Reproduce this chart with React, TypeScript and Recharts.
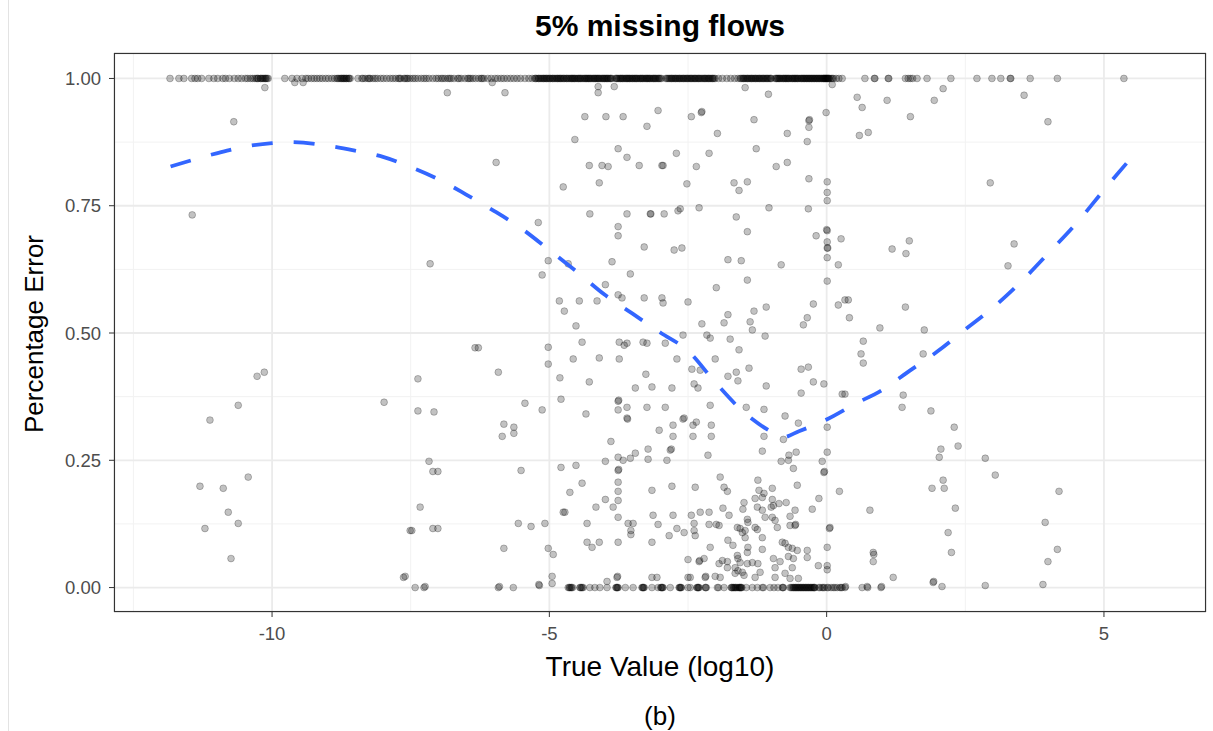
import { ScatterChart, Scatter, XAxis, YAxis, CartesianGrid } from 'recharts'

const xTicks = [-10, -5, 0, 5]
const yTicks = [0, 0.25, 0.5, 0.75, 1]
const xMinor = [-12.5, -7.5, -2.5, 2.5]
const yMinor = [0.125, 0.375, 0.625, 0.875]

// flows whose percentage error is 1 (row along the top)
const topRowX = [
  -11.84, -11.68, -11.59, -11.45, -11.39, -11.34, -11.27, -11.14, -11.05,
  -10.98, -10.89, -10.84, -10.77, -10.68, -10.61, -10.55, -10.48, -10.44, -10.39, -10.35,
  -10.31, -10.28, -10.25, -10.21, -10.18, -10.14, -10.11, -10.07,
  -9.77, -9.64, -9.55, -9.46, -9.39, -9.35, -9.29, -9.24, -9.19, -9.14, -9.09, -9.03,
  -8.98, -8.92, -8.87, -8.83, -8.79, -8.76, -8.73, -8.71, -8.68, -8.65, -8.62, -8.59,
  -8.45, -8.38, -8.32, -8.27, -8.23, -8.18, -8.14, -8.1, -8.04, -7.99, -7.93, -7.87,
  -7.82, -7.77, -7.72, -7.68, -7.62, -7.57, -7.51, -7.46, -7.42,
  -7.37, -7.31, -7.26, -7.22, -7.17, -7.1, -7.04, -7.0, -6.95, -6.88, -6.83, -6.77,
  -6.72, -6.65, -6.59, -6.52, -6.47, -6.42, -6.38, -6.33, -6.27, -6.23, -6.18, -6.11,
  -6.05, -5.98, -5.93, -5.87, -5.82, -5.76, -5.7, -5.64, -5.58, -5.52, -5.44, -5.37, -5.31,
  -5.26, -5.23, -5.2, -5.17, -5.13, -5.1, -5.08, -5.05, -5.01, -4.98, -4.95, -4.92,
  -4.88, -4.85, -4.83, -4.8, -4.76, -4.73, -4.7, -4.67, -4.63, -4.6, -4.57, -4.54,
  -4.5, -4.47, -4.45, -4.42, -4.38, -4.35, -4.32, -4.29, -4.26, -4.22, -4.19, -4.16,
  -4.13, -4.1, -4.06, -4.03, -4.0, -3.97, -3.94, -3.9, -3.87,
  -3.81, -3.78, -3.74, -3.71, -3.68, -3.64, -3.61, -3.58, -3.55, -3.51, -3.48, -3.45,
  -3.42, -3.38, -3.35, -3.32, -3.28, -3.25, -3.22, -3.19, -3.15, -3.12, -3.09, -3.05,
  -3.02, -2.98,
  -2.9, -2.86, -2.82, -2.79, -2.75, -2.72, -2.68, -2.65, -2.61, -2.58, -2.54, -2.51,
  -2.47, -2.44, -2.4, -2.37, -2.33, -2.3, -2.26, -2.22, -2.19, -2.15, -2.12, -2.08,
  -2.05, -2.01, -1.95, -1.88, -1.8, -1.73, -1.66, -1.6,
  -1.56, -1.52, -1.49, -1.45, -1.42, -1.38, -1.35, -1.31, -1.28, -1.24, -1.21, -1.17,
  -1.14, -1.1, -1.07, -1.03, -1.0,
  -0.93, -0.9, -0.87, -0.84, -0.8, -0.77, -0.74, -0.71, -0.68, -0.64, -0.61, -0.58,
  -0.55, -0.52, -0.48, -0.45, -0.42, -0.39, -0.36, -0.33, -0.3, -0.27, -0.24, -0.21,
  -0.18, -0.15, -0.12, -0.09, -0.06, -0.04, -0.02, 0.0, 0.02, 0.05, 0.08, 0.12, 0.17,
  0.22, 0.28,
  0.69, 0.86, 0.87, 1.11, 1.12, 1.42, 1.47, 1.51, 1.55, 1.63, 1.81, 2.24, 2.71, 2.98,
  3.14, 3.31, 3.32, 3.67, 4.16, 5.36,
]

// the near-black stretch of the top row holds many more overlapping flows
const topRowDenseX = [
  -10.26, -10.2, -10.16, -10.12, -10.09, -8.81, -8.75, -8.7, -8.66, -8.61, -8.36, -8.25,
  -7.7, -7.6, -7.55, -6.92, -6.8, -6.63, -6.45, -6.21,
  -5.25, -5.19, -5.15, -5.11, -5.06, -5.03, -4.99, -4.94, -4.9, -4.86, -4.81, -4.78,
  -4.74, -4.69, -4.65, -4.61, -4.58, -4.55, -4.52, -4.48, -4.44, -4.4, -4.36, -4.33,
  -4.3, -4.27, -4.24, -4.2, -4.17, -4.14, -4.11, -4.08, -4.04, -4.01, -3.98, -3.95,
  -3.92, -3.89,
  -3.79, -3.76, -3.72, -3.69, -3.66, -3.62, -3.59, -3.56, -3.53, -3.5, -3.46, -3.43,
  -3.4, -3.36, -3.33, -3.3, -3.26, -3.23, -3.2, -3.17, -3.13, -3.1, -3.07, -3.03, -3.0,
  -2.88, -2.84, -2.8, -2.77, -2.73, -2.7, -2.66, -2.63, -2.59, -2.56, -2.52, -2.49,
  -2.45, -2.42, -2.38, -2.35, -2.31, -2.28, -2.24, -2.2, -2.17, -2.13, -2.1, -2.06, -2.03,
  -1.54, -1.5, -1.47, -1.43, -1.4, -1.36, -1.33, -1.29, -1.26, -1.22, -1.19, -1.15,
  -1.12, -1.08, -1.05, -1.01,
  -0.91, -0.88, -0.85, -0.82, -0.78, -0.75, -0.72, -0.69, -0.66, -0.62, -0.59, -0.56,
  -0.53, -0.5, -0.46, -0.43, -0.4, -0.37, -0.34, -0.31, -0.28, -0.25, -0.22, -0.19,
  -0.16, -0.13, -0.1, -0.07, -0.05, -0.03, -0.01, 0.01, 0.03, 0.04, 0.1,
]

// flows whose percentage error is 0 (row along the bottom)
const bottomRowX = [
  -4.66, -4.63, -4.6, -4.45, -4.42, -4.39, -4.27, -4.18, -4.09, -3.96, -3.8, -3.78,
  -3.76, -3.63, -3.49, -3.33, -3.31, -3.29, -3.15, -3.04, -2.99, -2.97, -2.95, -2.82,
  -2.66, -2.64, -2.62, -2.5, -2.46, -2.34, -2.32, -2.3, -2.19, -2.17, -1.97, -1.95,
  -1.85, -1.72, -1.7, -1.67, -1.64, -1.6, -1.57, -1.55, -1.53, -1.45, -1.34, -1.25,
  -1.16, -1.14, -1.02, -0.95, -0.88, -0.8, -0.78, -0.66, -0.62, -0.59, -0.56, -0.53,
  -0.5, -0.47, -0.44, -0.41, -0.38, -0.35, -0.32, -0.29, -0.26, -0.23, -0.21, -0.14,
  -0.08, -0.04, 0.03, 0.08, 0.15, 0.19, 0.24, 0.28,
]

const bottomRowDenseX = [
  -4.64, -4.61, -4.58, -4.44, -4.41, -3.79, -3.77, -3.32, -3.3, -2.98, -2.96, -2.65,
  -2.63, -2.33, -2.31, -2.18, -1.71, -1.68, -1.65, -1.62, -1.58, -1.56, -1.54, -0.79,
  -0.64, -0.6, -0.57, -0.54, -0.51, -0.48, -0.45, -0.42, -0.39, -0.36, -0.33, -0.3,
  -0.27, -0.24, -0.22, -0.12, -0.06, 0.01, 0.12, 0.26,
]

const leftPoints: [number, number][] = [
  [-10.13, 0.982], [-9.59, 0.992], [-9.44, 0.992], [-6.84, 0.972], [-5.8, 0.972],
  [-10.69, 0.915], [-11.44, 0.732], [-7.15, 0.636], [-6.34, 0.471], [-6.28, 0.471],
  [-10.14, 0.423], [-10.27, 0.415], [-7.37, 0.41], [-10.61, 0.358], [-11.12, 0.329],
  [-7.98, 0.364], [-7.37, 0.347], [-7.08, 0.345], [-7.17, 0.248], [-7.1, 0.228],
  [-7.01, 0.228], [-10.43, 0.217], [-11.3, 0.199], [-10.88, 0.195], [-10.79, 0.148],
  [-11.21, 0.116], [-10.61, 0.126], [-7.33, 0.158], [-7.51, 0.112], [-7.48, 0.112],
  [-7.1, 0.116], [-7.01, 0.116], [-10.74, 0.057], [-7.63, 0.02], [-7.6, 0.022],
  [-7.42, 0], [-7.26, 0], [-7.24, 0.002], [-6.03, 0.992], [-5.96, 0.835], [-5.92, 0.423],
  [-5.82, 0.321], [-5.64, 0.315], [-5.85, 0.297], [-5.64, 0.303], [-5.82, 0.077],
  [-5.92, 0], [-5.9, 0.002], [-5.65, 0], [-5.51, 0.23], [-5.56, 0.126],
]

const centerPoints: [number, number][] = [
  [-4.12, 0.984], [-4.12, 0.972], [-3.83, 0.984], [-1.47, 0.982], [-1.05, 0.969], [0.1, 0.988],
  [-4.36, 0.925], [-3.98, 0.925], [-3.67, 0.925], [-3.04, 0.937], [-3.24, 0.906], [-2.44, 0.925],
  [-2.26, 0.933], [-2.25, 0.935], [-1.31, 0.919], [-0.32, 0.917], [-0.31, 0.919], [-0.32, 0.904],
  [-0.01, 0.933], [-1.97, 0.892], [-0.71, 0.892], [-0.35, 0.876], [-4.54, 0.88],
  [-3.76, 0.862], [-3.6, 0.845], [-2.71, 0.853], [-2.12, 0.853], [-1.27, 0.862], [-4.28, 0.829],
  [-4.05, 0.829], [-3.94, 0.827], [-3.38, 0.829], [-2.97, 0.829], [-2.95, 0.829], [-2.35, 0.827],
  [-0.91, 0.827], [-0.71, 0.835],
  [-4.75, 0.787], [-4.1, 0.795], [-2.52, 0.793], [-1.67, 0.795], [-1.58, 0.78], [-1.43, 0.797],
  [-0.32, 0.803], [0.01, 0.797], [0.01, 0.776], [0.01, 0.76],
  [-5.2, 0.717], [-4.27, 0.734], [-3.6, 0.734], [-3.18, 0.734], [-3.17, 0.734], [-2.93, 0.734],
  [-2.68, 0.74], [-2.64, 0.744], [-2.3, 0.746], [-1.63, 0.728], [-1.04, 0.746], [-0.33, 0.744],
  [-3.76, 0.709], [-3.76, 0.691], [-1.43, 0.699], [0.01, 0.701], [0.0, 0.703], [-0.19, 0.691],
  [0.01, 0.679], [0.01, 0.667], [0.02, 0.667], [0.01, 0.648], [0.26, 0.685],
  [-3.29, 0.669], [-2.75, 0.663], [-2.61, 0.667], [-5.02, 0.642], [-4.66, 0.636], [-3.87, 0.64],
  [-1.78, 0.644], [-1.54, 0.642], [-0.82, 0.634], [0.21, 0.634], [-5.13, 0.614], [-3.54, 0.616],
  [-1.43, 0.604], [0.01, 0.602], [-3.99, 0.595], [-1.99, 0.589],
  [-4.82, 0.563], [-4.46, 0.563], [-4.14, 0.563], [-3.76, 0.575], [-3.69, 0.569], [-3.29, 0.569],
  [-2.97, 0.569], [-2.95, 0.559], [-2.5, 0.561], [-1.09, 0.551], [-0.24, 0.557], [0.21, 0.555],
  [-4.73, 0.543], [-1.78, 0.536], [-1.85, 0.52], [-1.31, 0.543], [-0.35, 0.53], [-0.42, 0.516],
  [-4.52, 0.514], [-2.25, 0.518], [-1.38, 0.522], [-1.34, 0.506], [0.33, 0.565],
  [-5.02, 0.472], [-5.02, 0.439], [-4.41, 0.482], [-4.57, 0.449], [-4.1, 0.451], [-3.74, 0.482],
  [-3.65, 0.476], [-3.6, 0.48], [-3.74, 0.449], [-3.31, 0.482], [-3.24, 0.48], [-2.91, 0.48],
  [-2.59, 0.496], [-2.16, 0.496], [-2.1, 0.49], [-1.74, 0.488], [-1.58, 0.467], [-1.11, 0.494],
  [-2.7, 0.449], [-2.01, 0.449],
  [-4.81, 0.412], [-4.28, 0.404], [-3.26, 0.419], [-3.45, 0.392], [-3.15, 0.394], [-2.79, 0.392],
  [-2.43, 0.429], [-2.28, 0.427], [-2.39, 0.4], [-2.32, 0.392], [-1.78, 0.415], [-1.63, 0.423],
  [-1.6, 0.406], [-1.4, 0.431], [-1.09, 0.396], [-0.46, 0.429], [-0.33, 0.433], [-0.24, 0.404],
  [-0.05, 0.4], [-0.46, 0.382], [0.28, 0.38],
  [-5.44, 0.362], [-5.13, 0.349], [-4.79, 0.37], [-4.34, 0.341], [-3.76, 0.366], [-3.75, 0.368],
  [-3.76, 0.349], [-3.6, 0.354], [-3.6, 0.333], [-3.59, 0.331], [-3.24, 0.354], [-2.91, 0.354],
  [-2.1, 0.358], [-1.45, 0.354], [-1.13, 0.35], [-0.75, 0.337], [-0.51, 0.323],
  [-3.02, 0.309], [-2.77, 0.319], [-2.77, 0.297], [-2.59, 0.331], [-2.57, 0.333], [-2.41, 0.319],
  [-2.35, 0.325], [-2.41, 0.297], [-2.08, 0.319], [-2.08, 0.297], [-1.13, 0.297], [0.01, 0.315],
  [-0.78, 0.291],
  [-3.89, 0.287], [-3.22, 0.272], [-2.8, 0.272], [-3.45, 0.264], [-2.14, 0.26], [-1.16, 0.268],
  [-0.82, 0.248], [-0.69, 0.25], [-0.68, 0.26], [-0.55, 0.266], [0.01, 0.266], [-0.08, 0.248],
  [-3.99, 0.248], [-3.76, 0.256], [-3.67, 0.25], [-3.54, 0.254], [-3.22, 0.252], [-2.88, 0.25],
  [-2.82, 0.27],
  [-4.79, 0.236], [-4.52, 0.24], [-3.76, 0.23], [-3.75, 0.232], [-3.76, 0.207], [-3.76, 0.189],
  [-3.76, 0.171], [-4.41, 0.205], [-4.63, 0.187], [-3.99, 0.173], [-4.16, 0.158], [-3.85, 0.158],
  [-3.15, 0.191], [-2.79, 0.199], [-2.37, 0.197], [-1.92, 0.217], [-1.85, 0.197], [-1.79, 0.189],
  [-1.24, 0.211], [-0.98, 0.195], [-0.6, 0.234], [-0.53, 0.201], [-0.05, 0.226], [-0.04, 0.228],
  [0.23, 0.189], [-0.14, 0.175], [-0.26, 0.154],
  [-4.75, 0.148], [-4.72, 0.148], [-5.33, 0.12], [-5.08, 0.126], [-4.32, 0.126], [-3.76, 0.138],
  [-3.58, 0.126], [-3.49, 0.126], [-3.53, 0.112], [-3.53, 0.104], [-3.13, 0.142], [-3.04, 0.124],
  [-2.77, 0.142], [-2.44, 0.142], [-2.39, 0.126], [-2.39, 0.112], [-2.37, 0.102], [-2.28, 0.148],
  [-2.12, 0.148], [-2.57, 0.108], [-2.7, 0.116], [-2.84, 0.102],
  [-5.02, 0.077], [-4.93, 0.065], [-4.32, 0.089], [-4.23, 0.079], [-4.1, 0.089], [-3.76, 0.089],
  [-3.15, 0.089], [-4.95, 0.022], [-4.95, 0.008], [-5.18, 0.004], [-5.19, 0.006], [-3.96, 0.012],
  [-3.78, 0.02], [-3.77, 0.022], [-3.15, 0.02], [-3.06, 0.02], [-2.5, 0.055], [-2.5, 0.02],
  [-2.3, 0.051], [-2.29, 0.053], [-2.21, 0.057], [-2.19, 0.02], [-2.18, 0.022],
]

// dense group just left of zero, low error
const clusterPoints: [number, number][] = [
  [-1.22, 0.191], [-1.29, 0.175], [-1.16, 0.177], [-1.13, 0.185], [-0.98, 0.173], [-0.96, 0.161],
  [-1.0, 0.158], [-1.49, 0.167], [-1.51, 0.154], [-0.86, 0.165], [-0.73, 0.167], [-0.57, 0.152],
  [-0.66, 0.14], [-1.87, 0.156], [-1.76, 0.142], [-1.25, 0.158], [-1.16, 0.152], [-1.11, 0.138],
  [-0.98, 0.138], [-1.42, 0.128], [-1.43, 0.134], [-2.12, 0.124], [-1.99, 0.124], [-1.94, 0.122],
  [-1.61, 0.118], [-1.56, 0.116], [-1.47, 0.112], [-1.29, 0.118], [-1.25, 0.114], [-0.93, 0.132],
  [-0.89, 0.118], [-0.66, 0.122], [-0.57, 0.122], [-0.56, 0.124], [0.05, 0.116], [0.06, 0.118],
  [-1.78, 0.093], [-1.69, 0.083], [-1.52, 0.108], [-1.47, 0.098], [-1.16, 0.098], [-0.8, 0.089],
  [-0.75, 0.087], [-0.69, 0.079], [-0.62, 0.077], [-0.53, 0.073], [-0.35, 0.073], [-2.1, 0.079],
  [-1.42, 0.079], [-1.43, 0.069], [-1.16, 0.075], [0.01, 0.079], [-1.61, 0.063], [-1.6, 0.057],
  [-1.56, 0.049], [-1.88, 0.053], [-1.79, 0.051], [-1.94, 0.047], [-1.43, 0.047], [-1.34, 0.049],
  [-1.24, 0.047], [-0.96, 0.057], [-0.84, 0.051], [-0.69, 0.061], [-0.6, 0.057], [-0.35, 0.059],
  [-1.79, 0.039], [-1.65, 0.039], [-1.6, 0.033], [-0.93, 0.039], [-0.62, 0.039], [-0.15, 0.043],
  [0.01, 0.043], [0.01, 0.035], [-2.46, 0.02], [-2.01, 0.022], [-1.92, 0.02], [-1.65, 0.028],
  [-1.52, 0.03], [-1.49, 0.024], [-1.2, 0.03], [-1.29, 0.02], [-0.93, 0.02], [-0.75, 0.028],
  [-0.66, 0.018], [-0.51, 0.018],
]

const rightPoints: [number, number][] = [
  [0.55, 0.963], [0.64, 0.943], [1.09, 0.957], [2.1, 0.98], [1.94, 0.957], [1.51, 0.925],
  [0.59, 0.888], [0.75, 0.894], [3.56, 0.967], [3.99, 0.915], [2.95, 0.795], [3.38, 0.675],
  [3.27, 0.632], [1.49, 0.681], [1.18, 0.665], [1.43, 0.656], [0.39, 0.565], [0.41, 0.53],
  [1.42, 0.551], [0.96, 0.51], [1.76, 0.506], [0.66, 0.484], [0.62, 0.459], [0.66, 0.441],
  [1.74, 0.459], [0.33, 0.38], [1.38, 0.378], [1.36, 0.354], [1.88, 0.347], [2.3, 0.315],
  [2.37, 0.278], [2.06, 0.272], [2.03, 0.256], [2.86, 0.254], [3.04, 0.221], [2.1, 0.211],
  [1.9, 0.195], [2.12, 0.195], [4.19, 0.189], [2.32, 0.156], [0.78, 0.152], [3.94, 0.128],
  [2.19, 0.108], [0.84, 0.069], [0.85, 0.065], [0.84, 0.051], [2.25, 0.069], [4.16, 0.075],
  [3.99, 0.051], [1.2, 0.02], [1.92, 0.01], [1.93, 0.012], [0.33, 0], [0.34, 0.002], [0.64, 0],
  [0.73, 0.002], [0.74, 0], [0.98, 0], [0.99, 0.002], [2.08, 0.002], [2.86, 0.004], [3.9, 0.006],
]

// loess smoother
const smoothX = [
  -11.83, -11.0, -10.5, -10.0, -9.67, -9.0, -8.5, -8.0, -7.5, -7.0, -6.5, -6.0, -5.5, -5.0,
  -4.5, -4.0, -3.5, -3.0, -2.5, -2.0, -1.5, -1.0, -0.8, -0.5, 0.0, 0.5, 1.0, 1.5, 2.0, 2.5,
  3.0, 3.5, 4.0, 4.5, 5.0, 5.42,
]
const smoothY = [
  0.827, 0.853, 0.866, 0.873, 0.875, 0.868, 0.858, 0.846, 0.826, 0.802, 0.772, 0.74, 0.705,
  0.663, 0.62, 0.575, 0.538, 0.501, 0.465, 0.402, 0.345, 0.306, 0.295, 0.307, 0.33, 0.36,
  0.388, 0.426, 0.464, 0.507, 0.55, 0.6, 0.657, 0.715, 0.781, 0.835,
]

const toRows = (pts: [number, number][]) => pts.map(([x, y]) => ({ x, y }))
const points = [
  ...topRowX.map((x) => ({ x, y: 1 })),
  ...topRowDenseX.map((x) => ({ x, y: 1 })),
  ...bottomRowX.map((x) => ({ x, y: 0 })),
  ...bottomRowDenseX.map((x) => ({ x, y: 0 })),
  ...toRows(leftPoints),
  ...toRows(centerPoints),
  ...toRows(clusterPoints),
  ...toRows(rightPoints),
]
const smooth = smoothX.map((x, i) => ({ x, y: smoothY[i] }))

const FONT = '"Liberation Sans", Arial, Helvetica, sans-serif'

const Dot = (props: any) => {
  const { cx, cy } = props
  if (cx == null || cy == null) return <g />
  return (
    <circle
      cx={cx}
      cy={cy}
      r={3.4}
      fill="#000"
      fillOpacity={0.24}
      stroke="#000"
      strokeOpacity={0.24}
      strokeWidth={1}
    />
  )
}

export default function App() {
  return (
    <div
      style={{
        position: 'absolute',
        left: 0,
        top: 0,
        width: 1213,
        height: 731,
        background: '#fff',
        fontFamily: FONT,
      }}
    >
      <ScatterChart
        width={1213}
        height={731}
        margin={{ top: 53, right: 7, bottom: 89, left: 54 }}
      >
        <CartesianGrid
          stroke="#F2F2F2"
          strokeWidth={1}
          verticalValues={xMinor}
          horizontalValues={yMinor}
        />
        <CartesianGrid stroke="#EBEBEB" strokeWidth={1.8} />
        <XAxis
          type="number"
          dataKey="x"
          domain={[-12.85, 6.84]}
          allowDataOverflow
          ticks={xTicks}
          height={30}
          axisLine={false}
          tickLine={{ stroke: '#333' }}
          tickSize={5}
          tickMargin={10}
          tick={{ fill: '#4D4D4D', fontSize: 18.5, fontFamily: FONT }}
        />
        <YAxis
          type="number"
          dataKey="y"
          domain={[-0.048, 1.05]}
          allowDataOverflow
          ticks={yTicks}
          width={60}
          axisLine={false}
          tickLine={{ stroke: '#333' }}
          tickSize={5}
          tickMargin={8}
          tickFormatter={(v: number) => v.toFixed(2)}
          tick={{ fill: '#4D4D4D', fontSize: 18.5, fontFamily: FONT }}
        />
        <Scatter data={points} shape={Dot} isAnimationActive={false} />
        <Scatter
          data={smooth}
          shape={() => <g />}
          line={{ stroke: '#3366FF', strokeWidth: 3.8, strokeDasharray: '21 21' }}
          lineJointType="monotoneX"
          isAnimationActive={false}
        />
      </ScatterChart>
      <svg
        width={1213}
        height={731}
        style={{ position: 'absolute', left: 0, top: 0, pointerEvents: 'none' }}
      >
        <line x1={8.5} y1={0} x2={8.5} y2={731} stroke="#E3E3E3" strokeWidth={1} />
        <rect x={114.5} y={53.5} width={1091} height={558} fill="none" stroke="#333" strokeWidth={1.1} />
        <text x={660} y={36} textAnchor="middle" fontSize={30} fontWeight="bold" fill="#000" fontFamily={FONT}>
          5% missing flows
        </text>
        <text x={660} y={676} textAnchor="middle" fontSize={28} fill="#000" fontFamily={FONT}>
          True Value (log10)
        </text>
        <text
          x={0}
          y={0}
          transform="translate(43,334) rotate(-90)"
          textAnchor="middle"
          fontSize={26}
          fill="#000"
          fontFamily={FONT}
        >
          Percentage Error
        </text>
        <text x={660} y={725} textAnchor="middle" fontSize={26} fill="#000" fontFamily={FONT}>
          (b)
        </text>
      </svg>
    </div>
  )
}
